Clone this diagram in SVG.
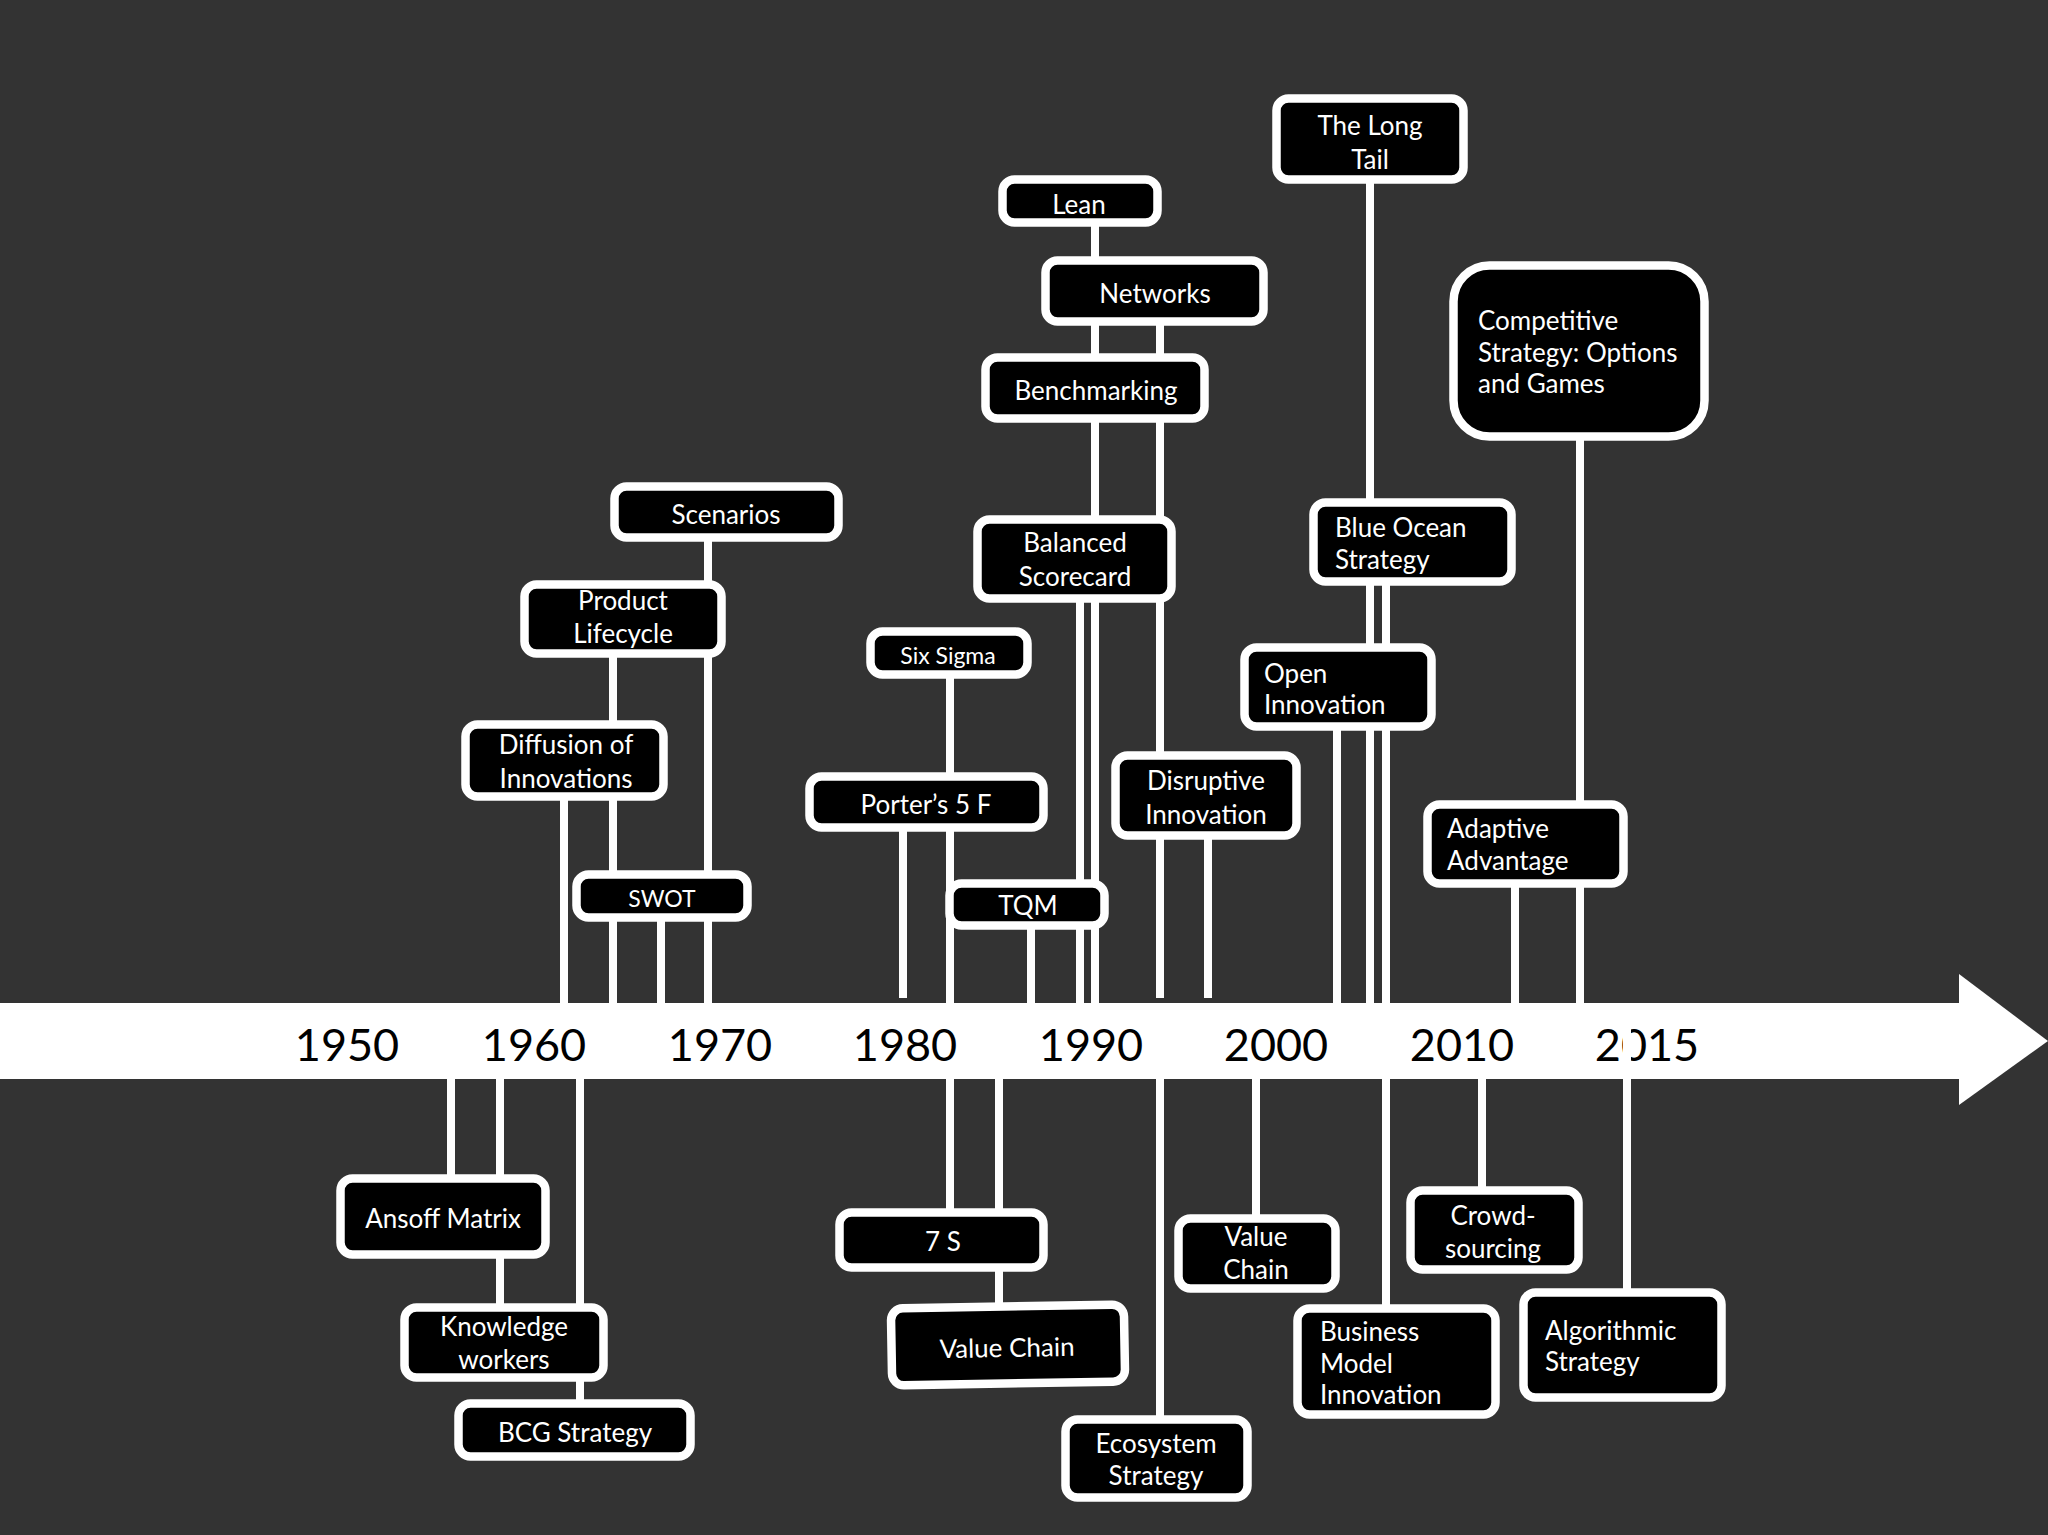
<svg xmlns="http://www.w3.org/2000/svg" width="2048" height="1535" viewBox="0 0 2048 1535">
<style>
.box{fill:#000;stroke:#fff;stroke-width:8.5}
.t{font-family:Lato,"Liberation Sans",sans-serif;font-size:26px;fill:#fff}
.c{text-anchor:middle}
.s{font-size:23px}
.yr{font-family:Lato,"Liberation Sans",sans-serif;font-size:45px;fill:#000;text-anchor:middle}
.ln{stroke:#fff;stroke-width:8;fill:none}
</style>
<rect x="0" y="0" width="2048" height="1535" fill="#333333"/>
<g id="axis">
<rect x="0" y="1003" width="1960" height="76" fill="#fff"/>
<polygon points="1959,974 2048,1041 1959,1105" fill="#fff"/>
<text class="yr" x="347" y="1061">1950</text>
<text class="yr" x="534" y="1061">1960</text>
<text class="yr" x="720" y="1061">1970</text>
<text class="yr" x="905" y="1061">1980</text>
<text class="yr" x="1091" y="1061">1990</text>
<text class="yr" x="1276" y="1061">2000</text>
<text class="yr" x="1462" y="1061">2010</text>
<text class="yr" x="1647" y="1061">2015</text>
</g>
<g id="connectors" class="ln">
<line x1="564" y1="798" x2="564" y2="1003"/>
<line x1="613" y1="654" x2="613" y2="1003"/>
<line x1="708" y1="541" x2="708" y2="1003"/>
<line x1="661" y1="921" x2="661" y2="1003"/>
<line x1="950" y1="678" x2="950" y2="1003"/>
<line x1="903" y1="831" x2="903" y2="998"/>
<line x1="1031" y1="929" x2="1031" y2="1003"/>
<line x1="1080" y1="601" x2="1080" y2="1003"/>
<line x1="1095" y1="226" x2="1095" y2="1003"/>
<line x1="1160" y1="325" x2="1160" y2="998"/>
<line x1="1208" y1="839" x2="1208" y2="998"/>
<line x1="1370" y1="182" x2="1370" y2="1003"/>
<line x1="1386" y1="585" x2="1386" y2="1003"/>
<line x1="1337" y1="730" x2="1337" y2="1003"/>
<line x1="1580" y1="440" x2="1580" y2="1003"/>
<line x1="1515" y1="887" x2="1515" y2="1003"/>
<line x1="451" y1="1079" x2="451" y2="1175"/>
<line x1="500" y1="1079" x2="500" y2="1305"/>
<line x1="580" y1="1079" x2="580" y2="1400"/>
<line x1="950" y1="1079" x2="950" y2="1209"/>
<line x1="999" y1="1079" x2="999" y2="1303"/>
<line x1="1160" y1="1079" x2="1160" y2="1416"/>
<line x1="1256" y1="1079" x2="1256" y2="1215"/>
<line x1="1386" y1="1079" x2="1386" y2="1305"/>
<line x1="1482" y1="1079" x2="1482" y2="1187"/>
<line x1="1627" y1="1012" x2="1627" y2="1289"/>
</g>
<g id="the-long-tail"><rect class="box" x="1276.5" y="98.5" width="187" height="81" rx="12"/><text class="t c" x="1370" y="135">The Long</text><text class="t c" x="1370" y="169">Tail</text></g>
<g id="lean"><rect class="box" x="1002.5" y="179.5" width="155" height="43" rx="12"/><text class="t c" x="1079" y="214">Lean</text></g>
<g id="networks"><rect class="box" x="1045.5" y="260.5" width="218" height="61" rx="12"/><text class="t c" x="1155" y="303">Networks</text></g>
<g id="benchmarking"><rect class="box" x="985.5" y="357.5" width="219" height="61" rx="12"/><text class="t c" x="1096" y="400">Benchmarking</text></g>
<g id="competitive-strategy"><rect class="box" x="1453.5" y="265.5" width="251" height="171" rx="36"/><text class="t" x="1478" y="330">Competitive</text><text class="t" x="1478" y="362">Strategy: Options</text><text class="t" x="1478" y="393">and Games</text></g>
<g id="scenarios"><rect class="box" x="614.5" y="486.5" width="224" height="51" rx="12"/><text class="t c" x="726" y="524">Scenarios</text></g>
<g id="balanced-scorecard"><rect class="box" x="977.5" y="519.5" width="194" height="79" rx="12"/><text class="t c" x="1075" y="552">Balanced</text><text class="t c" x="1075" y="586">Scorecard</text></g>
<g id="blue-ocean-strategy"><rect class="box" x="1313.5" y="502.5" width="198" height="79" rx="12"/><text class="t" x="1335" y="537">Blue Ocean</text><text class="t" x="1335" y="569">Strategy</text></g>
<g id="product-lifecycle"><rect class="box" x="524.5" y="584.5" width="197" height="69" rx="12"/><text class="t c" x="623" y="610">Product</text><text class="t c" x="623" y="643">Lifecycle</text></g>
<g id="six-sigma"><rect class="box" x="870.5" y="631.5" width="157" height="43" rx="12"/><text class="t c s" x="948" y="664">Six Sigma</text></g>
<g id="open-innovation"><rect class="box" x="1244.5" y="647.5" width="187" height="79" rx="12"/><text class="t" x="1264" y="683">Open</text><text class="t" x="1264" y="714">Innovation</text></g>
<g id="diffusion-of-innovations"><rect class="box" x="465.5" y="724.5" width="198" height="72" rx="12"/><text class="t c" x="566" y="754">Diffusion of</text><text class="t c" x="566" y="788">Innovations</text></g>
<g id="porters-5f"><rect class="box" x="809.5" y="776.5" width="234" height="51" rx="12"/><text class="t c" x="926" y="814">Porter’s 5 F</text></g>
<g id="disruptive-innovation"><rect class="box" x="1115.5" y="755.5" width="181" height="80" rx="12"/><text class="t c" x="1206" y="790">Disruptive</text><text class="t c" x="1206" y="824">Innovation</text></g>
<g id="adaptive-advantage"><rect class="box" x="1427.5" y="804.5" width="196" height="79" rx="12"/><text class="t" x="1447" y="838">Adaptive</text><text class="t" x="1447" y="870">Advantage</text></g>
<g id="swot"><rect class="box" x="576.5" y="874.5" width="171" height="43" rx="12"/><text class="t c s" x="662" y="907">SWOT</text></g>
<g id="tqm"><rect class="box" x="949.5" y="883.5" width="155" height="42" rx="12"/><text class="t c" x="1028" y="915">TQM</text></g>
<g id="ansoff-matrix"><rect class="box" x="340.5" y="1178.5" width="205" height="76" rx="12"/><text class="t c" x="443" y="1228">Ansoff Matrix</text></g>
<g id="knowledge-workers"><rect class="box" x="404.5" y="1307.5" width="199" height="70" rx="12"/><text class="t c" x="504" y="1336">Knowledge</text><text class="t c" x="504" y="1369">workers</text></g>
<g id="bcg-strategy"><rect class="box" x="458.5" y="1403.5" width="232" height="53" rx="12"/><text class="t c" x="575" y="1442">BCG Strategy</text></g>
<g id="seven-s"><rect class="box" x="839.5" y="1212.5" width="204" height="55" rx="12"/><text class="t c" x="943" y="1251">7 S</text></g>
<g id="value-chain-1" transform="rotate(-1 1008 1345)"><rect class="box" x="891.5" y="1306.5" width="233" height="77" rx="12"/><text class="t c" x="1007" y="1357">Value Chain</text></g>
<g id="ecosystem-strategy"><rect class="box" x="1065.5" y="1419.5" width="182" height="78" rx="12"/><text class="t c" x="1156" y="1453">Ecosystem</text><text class="t c" x="1156" y="1485">Strategy</text></g>
<g id="value-chain-2"><rect class="box" x="1178.5" y="1218.5" width="157" height="70" rx="12"/><text class="t c" x="1256" y="1246">Value</text><text class="t c" x="1256" y="1279">Chain</text></g>
<g id="business-model-innovation"><rect class="box" x="1297.5" y="1308.5" width="198" height="106" rx="12"/><text class="t" x="1320" y="1341">Business</text><text class="t" x="1320" y="1373">Model</text><text class="t" x="1320" y="1404">Innovation</text></g>
<g id="crowd-sourcing"><rect class="box" x="1410.5" y="1190.5" width="168" height="79" rx="12"/><text class="t c" x="1493" y="1225">Crowd-</text><text class="t c" x="1493" y="1258">sourcing</text></g>
<g id="algorithmic-strategy"><rect class="box" x="1523.5" y="1292.5" width="198" height="105" rx="12"/><text class="t" x="1545" y="1340">Algorithmic</text><text class="t" x="1545" y="1371">Strategy</text></g>
</svg>
